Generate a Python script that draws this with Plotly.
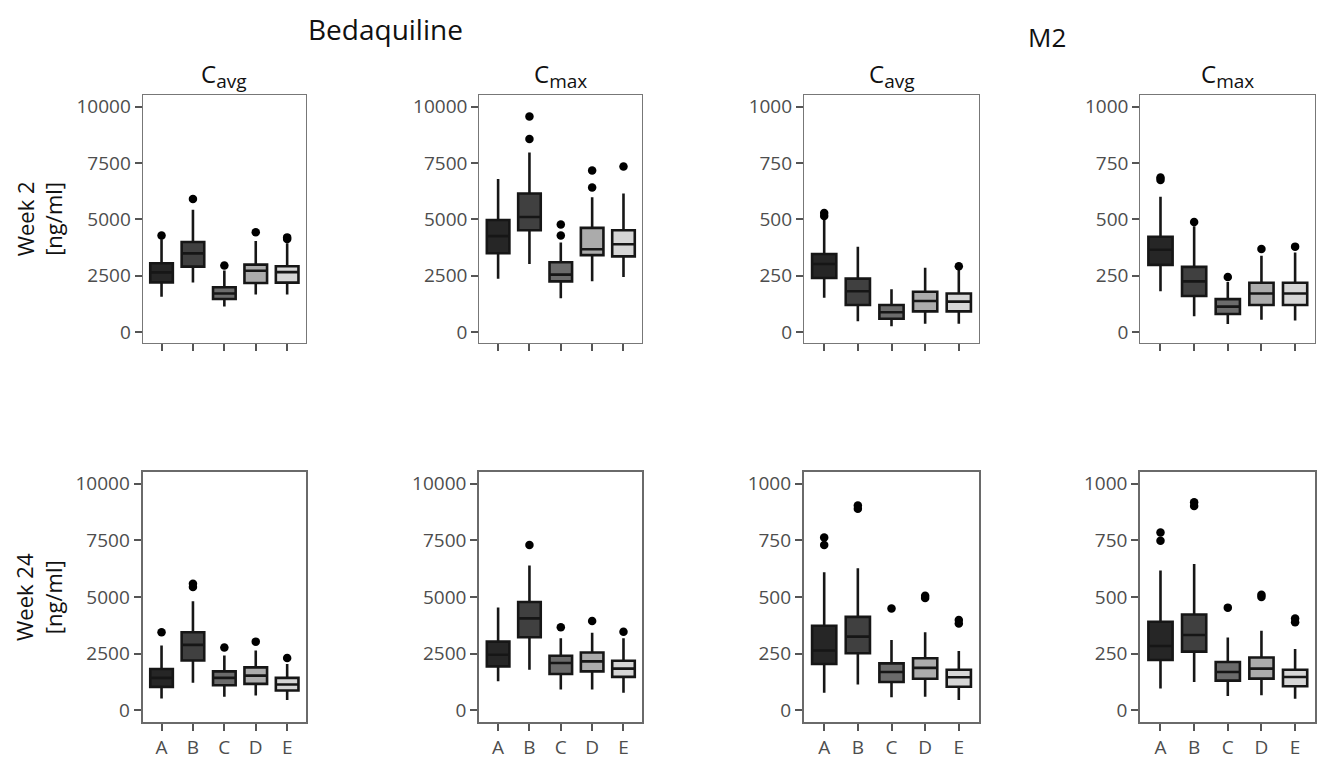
import plotly.graph_objects as go

W, H = 1319, 760

groups = ["A", "B", "C", "D", "E"]
fills = ["#262626", "#404040", "#6b6b6b", "#ababab", "#d6d6d6"]

# Panel data: (lowerfence, q1, median, q3, upperfence) per group, plus outliers per group
bdq_cavg_w2_lf = [1570, 2194, 1134, 1670, 1670]
bdq_cavg_w2_q1 = [2207, 2904, 1465, 2180, 2194]
bdq_cavg_w2_med = [2650, 3489, 1714, 2717, 2660]
bdq_cavg_w2_q3 = [3053, 3995, 1989, 2992, 2922]
bdq_cavg_w2_uf = [4112, 5420, 2730, 4038, 3938]
bdq_cavg_w2_out = [[4287], [5900], [2948], [4431], [4130, 4200]]

bdq_cmax_w2_lf = [2368, 3022, 1496, 2250, 2442]
bdq_cmax_w2_q1 = [3495, 4518, 2250, 3415, 3358]
bdq_cmax_w2_med = [4256, 5102, 2550, 3676, 3894]
bdq_cmax_w2_q3 = [4970, 6149, 3096, 4623, 4518]
bdq_cmax_w2_uf = [6790, 7963, 3969, 5975, 6149]
bdq_cmax_w2_out = [[], [9563, 8560], [4767, 4287], [7165, 6411], [7340]]

m2_cavg_w2_lf = [152, 48, 26, 37, 37]
m2_cavg_w2_q1 = [240, 120, 59, 92, 92]
m2_cavg_w2_med = [302, 181, 88, 138, 135]
m2_cavg_w2_q3 = [346, 237, 120, 179, 171]
m2_cavg_w2_uf = [498, 379, 190, 285, 277]
m2_cavg_w2_out = [[515, 528], [], [], [], [292]]

m2_cmax_w2_lf = [181, 70, 36, 55, 51]
m2_cmax_w2_q1 = [298, 160, 80, 120, 120]
m2_cmax_w2_med = [365, 225, 113, 171, 171]
m2_cmax_w2_q3 = [423, 289, 146, 219, 219]
m2_cmax_w2_uf = [600, 469, 222, 338, 353]
m2_cmax_w2_out = [[675, 685], [488], [244], [368], [379]]

bdq_cavg_w24_lf = [525, 1211, 598, 656, 452]
bdq_cavg_w24_q1 = [1036, 2200, 1106, 1168, 875]
bdq_cavg_w24_med = [1430, 2886, 1430, 1531, 1137]
bdq_cavg_w24_q3 = [1823, 3441, 1719, 1894, 1430]
bdq_cavg_w24_uf = [2856, 4810, 2418, 2637, 2042]
bdq_cavg_w24_out = [[3441], [5584, 5436], [2768], [3030], [2304]]

bdq_cmax_w24_lf = [1282, 1793, 918, 918, 774]
bdq_cmax_w24_q1 = [1937, 3222, 1605, 1719, 1474]
bdq_cmax_w24_med = [2449, 4054, 2086, 2157, 1837]
bdq_cmax_w24_q3 = [3030, 4780, 2405, 2551, 2187]
bdq_cmax_w24_uf = [4535, 6385, 3179, 3426, 3179]
bdq_cmax_w24_out = [[], [7290], [3660], [3936], [3469]]

m2_cavg_w24_lf = [77, 114, 58, 60, 45]
m2_cavg_w24_q1 = [204, 252, 125, 139, 104]
m2_cavg_w24_med = [264, 325, 169, 187, 146]
m2_cavg_w24_q3 = [373, 412, 207, 230, 179]
m2_cavg_w24_uf = [609, 627, 310, 344, 262]
m2_cavg_w24_out = [[762, 729], [904, 889], [449], [495, 505], [398, 383]]

m2_cmax_w24_lf = [96, 125, 63, 67, 51]
m2_cmax_w24_q1 = [222, 259, 131, 140, 106]
m2_cmax_w24_med = [284, 332, 169, 184, 147]
m2_cmax_w24_q3 = [391, 423, 213, 233, 179]
m2_cmax_w24_uf = [617, 646, 321, 351, 270]
m2_cmax_w24_out = [[784, 748], [918, 901], [453], [500, 510], [405, 388]]

bdq_ticks = [0, 2500, 5000, 7500, 10000]
m2_ticks = [0, 250, 500, 750, 1000]

panels = [
    (bdq_cavg_w2_lf, bdq_cavg_w2_q1, bdq_cavg_w2_med, bdq_cavg_w2_q3, bdq_cavg_w2_uf, bdq_cavg_w2_out),
    (bdq_cmax_w2_lf, bdq_cmax_w2_q1, bdq_cmax_w2_med, bdq_cmax_w2_q3, bdq_cmax_w2_uf, bdq_cmax_w2_out),
    (m2_cavg_w2_lf, m2_cavg_w2_q1, m2_cavg_w2_med, m2_cavg_w2_q3, m2_cavg_w2_uf, m2_cavg_w2_out),
    (m2_cmax_w2_lf, m2_cmax_w2_q1, m2_cmax_w2_med, m2_cmax_w2_q3, m2_cmax_w2_uf, m2_cmax_w2_out),
    (bdq_cavg_w24_lf, bdq_cavg_w24_q1, bdq_cavg_w24_med, bdq_cavg_w24_q3, bdq_cavg_w24_uf, bdq_cavg_w24_out),
    (bdq_cmax_w24_lf, bdq_cmax_w24_q1, bdq_cmax_w24_med, bdq_cmax_w24_q3, bdq_cmax_w24_uf, bdq_cmax_w24_out),
    (m2_cavg_w24_lf, m2_cavg_w24_q1, m2_cavg_w24_med, m2_cavg_w24_q3, m2_cavg_w24_uf, m2_cavg_w24_out),
    (m2_cmax_w24_lf, m2_cmax_w24_q1, m2_cmax_w24_med, m2_cmax_w24_q3, m2_cmax_w24_uf, m2_cmax_w24_out),
]

col_px = [(142.7, 306.0), (479.3, 642.3), (804.0, 979.0), (1140.3, 1315.3)]
row_px = [(94.3, 345.0), (475.3, 727.3)]

FONT = "Open Sans"
fig = go.Figure()
layout = dict(
    width=W, height=H, margin=dict(l=0, r=0, t=0, b=0),
    paper_bgcolor="white", plot_bgcolor="white", showlegend=False,
    boxmode="overlay", font=dict(family=FONT, color="#4d4d4d"),
)

for p, (lf, q1, med, q3, uf, outs) in enumerate(panels):
    r, c = divmod(p, 4)
    idx = p + 1
    xa = "x" if idx == 1 else f"x{idx}"
    ya = "y" if idx == 1 else f"y{idx}"
    for g in range(5):
        fig.add_trace(go.Box(
            x=[g + 1], q1=[q1[g]], median=[med[g]], q3=[q3[g]],
            lowerfence=[lf[g]], upperfence=[uf[g]],
            width=0.72, whiskerwidth=0, fillcolor=fills[g],
            line=dict(color="#161616", width=2.6),
            boxpoints=False, hoverinfo="skip",
            xaxis=xa, yaxis=ya,
        ))
        if outs[g]:
            fig.add_trace(go.Scatter(
                x=[g + 1] * len(outs[g]), y=outs[g], mode="markers",
                marker=dict(color="black", size=8.5),
                xaxis=xa, yaxis=ya, hoverinfo="skip",
            ))
    x0, x1 = col_px[c]
    y0, y1 = row_px[r]
    is_bdq = c < 2
    ticks = bdq_ticks if is_bdq else m2_ticks
    top = ticks[-1]
    frame_w = 1.2 if r == 0 else 2.2
    frame_c = "#777777" if r == 0 else "#6a6a6a"
    key = "" if idx == 1 else str(idx)
    layout["xaxis" + key] = dict(
        domain=[x0 / W, x1 / W], anchor=ya, range=[0.4, 5.6],
        tickvals=[1, 2, 3, 4, 5], ticktext=groups, showticklabels=(r == 1),
        ticks="outside", ticklen=7, tickwidth=2, tickcolor="#555555",
        showline=True, mirror=True, linecolor=frame_c, linewidth=frame_w,
        showgrid=False, zeroline=False, fixedrange=True,
        tickfont=dict(size=19, color="#4d4d4d", family=FONT),
    )
    layout["yaxis" + key] = dict(
        domain=[1 - y1 / H, 1 - y0 / H], anchor=xa,
        range=[-0.05 * top, 1.05 * top], tickvals=ticks,
        ticktext=[str(t) for t in ticks],
        ticks="outside", ticklen=7, tickwidth=2, tickcolor="#555555",
        showline=True, mirror=True, linecolor=frame_c, linewidth=frame_w,
        showgrid=False, zeroline=False, fixedrange=True,
        tickfont=dict(size=19, color="#4d4d4d", family=FONT),
    )

fig.update_layout(**layout)

annotations = [
    dict(text="Bedaquiline", x=385 / W, y=1 - 27 / H, font=dict(size=28)),
    dict(text="M2", x=1047 / W, y=1 - 35 / H, font=dict(size=26)),
]
col_titles = ["C<sub><span style='font-size:19px'>avg</span></sub>",
              "C<sub><span style='font-size:19px'>max</span></sub>",
              "C<sub><span style='font-size:19px'>avg</span></sub>",
              "C<sub><span style='font-size:19px'>max</span></sub>"]
for (x0, x1), t in zip(col_px, col_titles):
    annotations.append(dict(text=t, x=(x0 + x1) / 2 / W, y=1 - 74 / H, font=dict(size=24)))
row_titles = ["Week 2<br>[ng/ml]", "Week 24<br>[ng/ml]"]
for (y0, y1), t in zip(row_px, row_titles):
    annotations.append(dict(text=t, x=39 / W, y=1 - (y0 + y1) / 2 / H, textangle=-90,
                            font=dict(size=22)))
for a in annotations:
    a.update(xref="paper", yref="paper", showarrow=False, xanchor="center", yanchor="middle")
    a["font"].update(family=FONT, color="#111111")
fig.update_layout(annotations=annotations)

fig.write_html("out.html", config={"displayModeBar": False},
               post_script="document.body.style.margin='0';document.body.style.overflow='hidden';")
